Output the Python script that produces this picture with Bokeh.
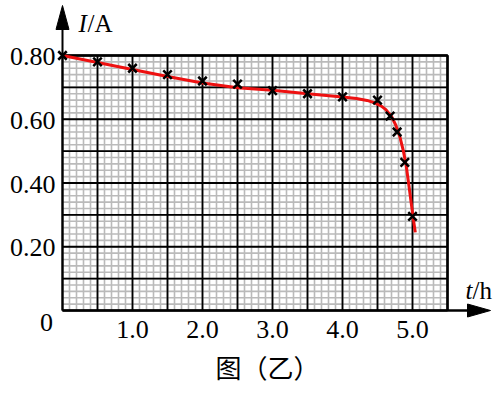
import numpy as np
from bokeh.plotting import figure
from bokeh.models import Range1d
from bokeh.core.properties import value
from bokeh.embed import file_html
from bokeh.resources import INLINE

# measured points (t in h, I in A)
t_meas = [0.0, 0.5, 1.0, 1.5, 2.0, 2.5, 3.0, 3.5, 4.0, 4.5, 4.68, 4.78, 4.89, 5.0]
i_meas = [0.80, 0.78, 0.76, 0.74, 0.72, 0.71, 0.69, 0.68, 0.67, 0.66, 0.61, 0.56, 0.465, 0.295]

# hand-drawn fitted curve
t_fit = [0.0, 0.5, 1.0, 1.5, 2.0, 2.5, 3.0, 3.5, 4.0, 4.2, 4.35, 4.45, 4.55, 4.62,
         4.7, 4.76, 4.82, 4.87, 4.91, 4.95, 4.98, 5.01, 5.04]
i_fit = [0.800, 0.778, 0.756, 0.734, 0.714, 0.699, 0.691, 0.680, 0.670, 0.665, 0.659,
         0.652, 0.642, 0.630, 0.609, 0.582, 0.545, 0.500, 0.455, 0.390, 0.340, 0.290, 0.245]

x_ticks = [1, 2, 3, 4, 5]
x_tick_labels = ["1.0", "2.0", "3.0", "4.0", "5.0"]
y_ticks = [0.2, 0.4, 0.6, 0.8]
y_tick_labels = ["0.20", "0.40", "0.60", "0.80"]

X_MAX, Y_MAX = 5.5, 0.8
X_MAJOR, Y_MAJOR = 0.5, 0.1
X_MINOR, Y_MINOR = 0.1, 0.02

W, H = 500, 394
OX, OY = 62, 310            # pixel position of the origin
PX_X, PX_Y = 70.0, 318.75   # pixels per unit


def tx(px):
    return (px - OX) / PX_X


def ty(py):
    return (OY - py) / PX_Y


p = figure(width=W, height=H, output_backend="svg", toolbar_location=None,
           x_range=Range1d(tx(0), tx(W)), y_range=Range1d(ty(H), ty(0)),
           x_axis_location=None, y_axis_location=None,
           min_border_left=0, min_border_bottom=0, min_border_top=0, min_border_right=0)
p.outline_line_color = None
p.grid.visible = False
p.background_fill_color = "white"
p.border_fill_color = "white"

SERIF = "Liberation Serif"

# minor grid
xm = np.round(np.arange(0, X_MAX + 1e-9, X_MINOR), 4)
ym = np.round(np.arange(0, Y_MAX + 1e-9, Y_MINOR), 4)
p.segment(x0=xm, y0=0, x1=xm, y1=Y_MAX, line_color="#bababa", line_width=1.6)
p.segment(x0=0, y0=ym, x1=X_MAX, y1=ym, line_color="#bababa", line_width=1.6)
# major grid
xM = np.round(np.arange(0, X_MAX + 1e-9, X_MAJOR), 4)
yM = np.round(np.arange(0, Y_MAX + 1e-9, Y_MAJOR), 4)
p.segment(x0=xM, y0=0, x1=xM, y1=Y_MAX, line_color="black", line_width=1.8)
p.segment(x0=0, y0=yM, x1=X_MAX, y1=yM, line_color="black", line_width=1.8)
# frame edges
p.line([0, X_MAX, X_MAX], [Y_MAX, Y_MAX, 0], line_color="black", line_width=2.5)

# axes with arrows
ytip, ybase = ty(5), ty(29)
hw_x = 6.5 / PX_X
p.line([0, 0], [0, ybase + 0.01], line_color="black", line_width=2)
p.patch([0, -hw_x, hw_x], [ytip, ybase, ybase], color="black")
xtip, xbase = tx(490), tx(467)
hw_y = 6.5 / PX_Y
p.line([0, xbase + 0.05], [0, 0], line_color="black", line_width=2.5)
p.patch([xtip, xbase, xbase], [0, hw_y, -hw_y], color="black")

# tick labels
p.text(x=x_ticks, y=ty(329), text=x_tick_labels, text_font=value(SERIF),
       text_font_size="26px", text_align="center", text_baseline="middle", text_color="black")
p.text(x=tx(55), y=y_ticks, text=y_tick_labels, text_font=value(SERIF),
       text_font_size="26px", text_align="right", text_baseline="middle", text_color="black",
       y_offset=1)
p.text(x=[tx(46)], y=[ty(322)], text=["0"], text_font=value(SERIF),
       text_font_size="26px", text_align="center", text_baseline="middle", text_color="black")

# curve and points
p.line(t_fit, i_fit, line_color="#ee1111", line_width=3)
p.scatter(t_meas, i_meas, marker="x", size=12, line_width=2.5, line_color="black")


def lab(text, px, py, size="25px", style="normal", font=SERIF, align="left", base="alphabetic"):
    p.text(x=[tx(px)], y=[ty(py)], text=[text], text_font=value(font), text_font_size=size,
           text_font_style=style, text_align=align, text_baseline=base, text_color="black")


lab("I", 78, 23, style="italic")
lab("/A", 87, 23)
lab("t", 465, 290, style="italic")
lab("/h", 472, 290)
lab("图（乙）", 267, 366, size="26px", font="Noto Sans CJK SC", align="center", base="middle")

open("out.html", "w").write(file_html(p, INLINE))
